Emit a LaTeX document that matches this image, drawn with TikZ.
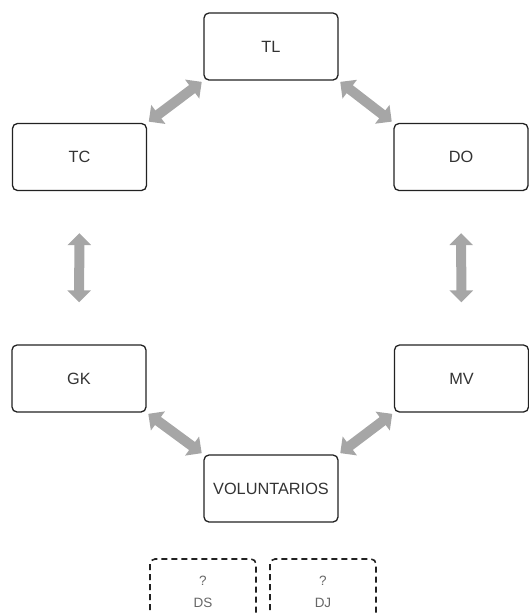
\documentclass[tikz,border=0pt]{standalone}
\usepackage{fontspec}
\setmainfont{Liberation Sans}
\usetikzlibrary{arrows.meta}
\definecolor{boxline}{HTML}{222222}
\definecolor{arrowgray}{HTML}{A6A6A6}
\definecolor{txtdark}{HTML}{333333}
\definecolor{txtgray}{HTML}{666666}
\tikzset{
  rolebox/.style={draw=boxline, line width=1.3pt, rounded corners=5pt, fill=white,
    minimum width=134pt, minimum height=67pt, inner sep=0pt, text=txtdark,
    font=\fontsize{16.3}{19}\selectfont},
  biarrow/.style={draw=arrowgray, line width=10pt,
    {Triangle[length=12pt, width=23pt]}-{Triangle[length=12pt, width=23pt]},
    shorten <=2pt, shorten >=2pt},
  vbiarrow/.style={biarrow, shorten <=42pt, shorten >=42pt},
  dashbox/.style={draw=boxline, line width=1.6pt, dash pattern=on 6pt off 4pt, rounded corners=5pt},
  smalltxt/.style={text=txtgray, align=center, font=\fontsize{13.5}{22}\selectfont}
}
\begin{document}
\begin{tikzpicture}[x=1pt, y=-1pt]
\useasboundingbox (0,0) rectangle (529,614);
\node[rolebox] (TL) at (271,46.5) {TL};
\node[rolebox] (TC) at (79.5,157) {TC};
\node[rolebox] (DO) at (461,157) {DO};
\node[rolebox] (GK) at (79,378.5) {GK};
\node[rolebox] (MV) at (461.5,378.5) {MV};
\node[rolebox] (VOL) at (271,488.5) {VOLUNTARIOS};

\draw[biarrow] (TL.south west) -- (TC.north east);
\draw[biarrow] (TL.south east) -- (DO.north west);
\draw[vbiarrow] (TC.south) -- (GK.north);
\draw[vbiarrow] (DO.south) -- (MV.north);
\draw[biarrow] (GK.south east) -- (VOL.north west);
\draw[biarrow] (MV.south west) -- (VOL.north east);

\begin{scope}
\clip (0,0) rectangle (529,614);
\draw[dashbox] (150,640) -- (150,559) -- (256,559) -- (256,640);
\draw[dashbox] (270,640) -- (270,559) -- (376,559) -- (376,640);
\end{scope}
\node[smalltxt] (DS) at (203,592) {?\\DS};
\node[smalltxt] (DJ) at (323,592) {?\\DJ};
\end{tikzpicture}
\end{document}
